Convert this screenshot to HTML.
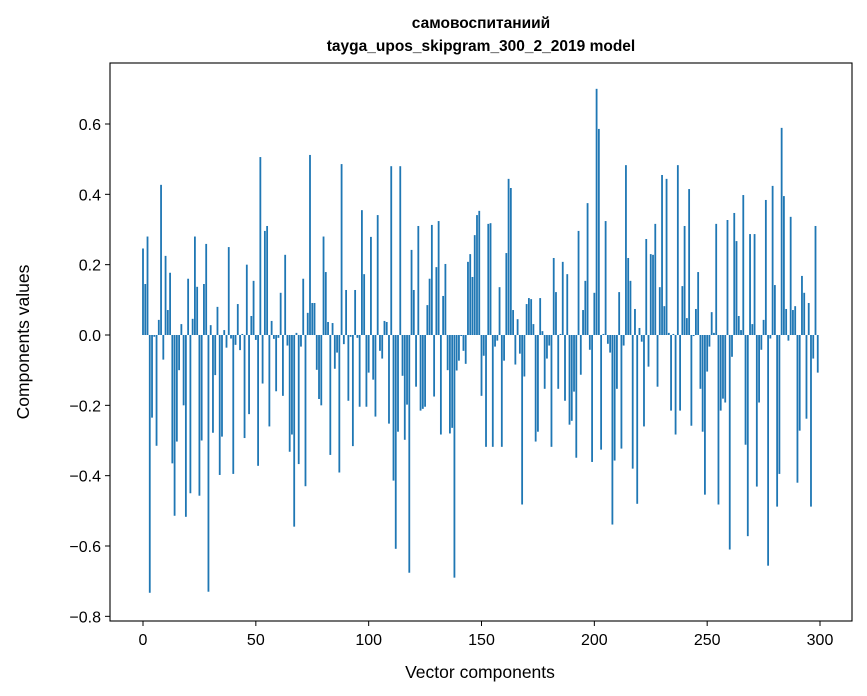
<!DOCTYPE html>
<html><head><meta charset="utf-8"><style>
body{margin:0;background:#fff;}
svg{display:block;font-family:"Liberation Sans","DejaVu Sans",sans-serif;}
</style></head><body>
<svg id="chart" width="867" height="696" viewBox="0 0 867 696">
<rect width="867" height="696" fill="#fff"/>
<text x="481" y="28" text-anchor="middle" font-size="15.5" font-weight="bold">самовоспитаниий</text>
<text x="481" y="51" text-anchor="middle" font-size="15.5" font-weight="bold">tayga_upos_skipgram_300_2_2019 model</text>
<g id="bars"></g>
<g id="xticks"></g>
<g id="yticks"></g>
<rect x="110" y="63" width="742" height="558" fill="none" stroke="#000" stroke-width="1.1"/>
<text x="480" y="678" text-anchor="middle" font-size="17.5">Vector components</text>
<text transform="translate(29,342) rotate(-90)" text-anchor="middle" font-size="17.5">Components values</text>
</svg>
<script>
const values = [
0.246,0.145,0.28,-0.733,-0.235,-0.005,-0.315,0.043,0.427,-0.07,
0.225,0.071,0.177,-0.365,-0.514,-0.303,-0.10,0.031,-0.2,-0.517,
0.16,-0.45,0.046,0.28,0.137,-0.457,-0.3,0.145,0.259,-0.73,
0.028,-0.278,-0.114,0.08,-0.398,-0.289,0.014,-0.036,0.25,-0.01,
-0.395,-0.028,0.088,-0.043,0.003,-0.293,0.2,-0.225,0.054,0.154,
-0.014,-0.372,0.506,-0.138,0.296,0.31,-0.26,0.04,-0.011,-0.16,
-0.008,0.12,-0.173,0.228,-0.03,-0.332,-0.283,-0.545,0.006,-0.367,
-0.033,0.16,-0.43,0.063,0.512,0.091,0.091,-0.099,-0.182,-0.2,
0.28,0.179,0.037,-0.341,0.034,-0.096,-0.05,-0.391,0.486,-0.026,
0.128,-0.187,-0.005,-0.316,0.128,-0.008,-0.204,0.355,0.173,-0.204,
-0.107,0.279,-0.127,-0.232,0.341,-0.045,-0.067,0.04,0.037,-0.252,
0.48,-0.414,-0.608,-0.275,0.48,-0.116,-0.298,-0.198,-0.676,0.242,
0.128,-0.147,0.31,-0.215,-0.21,-0.204,0.085,0.16,0.313,-0.175,
0.193,0.324,-0.283,0.111,0.202,-0.1,-0.28,-0.264,-0.69,-0.101,
-0.073,-0.003,-0.045,-0.082,0.208,0.23,0.165,0.284,0.341,0.353,
-0.173,-0.059,-0.318,0.316,0.318,-0.318,-0.033,-0.016,0.136,-0.318,
-0.073,0.233,0.444,0.418,0.071,-0.084,0.045,-0.053,-0.482,-0.118,
0.088,0.105,0.102,0.031,-0.303,-0.275,0.105,0.011,-0.153,-0.067,
-0.03,-0.318,0.219,0.122,-0.153,0.003,0.208,-0.187,0.173,-0.255,
-0.244,-0.161,-0.349,0.296,-0.113,0.071,0.154,0.375,-0.042,-0.361,
0.12,0.7,0.586,-0.326,0.003,0.324,-0.025,-0.05,-0.539,-0.357,
-0.153,0.122,-0.323,-0.03,0.483,0.219,0.154,-0.38,0.074,-0.48,
0.02,-0.019,-0.26,0.273,-0.09,0.23,0.228,0.316,-0.147,0.136,
0.455,0.082,0.444,0.006,-0.215,0.003,-0.283,0.483,-0.215,0.139,
0.31,0.048,0.415,-0.258,-0.003,0.074,0.179,-0.153,-0.275,-0.454,
-0.104,-0.033,0.065,0.006,0.316,-0.482,-0.215,-0.181,-0.192,0.327,
-0.61,-0.062,0.347,0.267,0.054,0.014,0.398,-0.312,-0.572,0.287,
0.031,0.287,-0.431,-0.192,-0.042,0.043,0.384,-0.656,-0.01,0.424,
0.142,-0.488,-0.395,0.589,0.395,0.074,-0.016,0.336,0.071,0.082,
-0.42,-0.272,0.168,0.12,-0.238,0.091,-0.488,-0.067,0.31,-0.107
];
const xTickValues = [0,50,100,150,200,250,300];
const yTickValues = [-0.8,-0.6,-0.4,-0.2,0.0,0.2,0.4,0.6];
const yTickLabels = ["\u22120.8","\u22120.6","\u22120.4","\u22120.2","0.0","0.2","0.4","0.6"];

const NS="http://www.w3.org/2000/svg";
const xs = v => 143 + v*2.2567;
const ys = v => 335 - v*351.67;
const barsG=document.getElementById('bars');
values.forEach((v,i)=>{
  const r=document.createElementNS(NS,'rect');
  const y0=ys(Math.max(v,0)), y1=ys(Math.min(v,0));
  r.setAttribute('x',xs(i-0.4));
  r.setAttribute('width',0.8*2.2567);
  r.setAttribute('y',y0);
  r.setAttribute('height',Math.max(y1-y0,0.3));
  r.setAttribute('fill','#1f77b4');
  
  
  barsG.appendChild(r);
});
const xg=document.getElementById('xticks');
xTickValues.forEach(t=>{
  const l=document.createElementNS(NS,'line');
  l.setAttribute('x1',xs(t));l.setAttribute('x2',xs(t));
  l.setAttribute('y1',621);l.setAttribute('y2',626);
  l.setAttribute('stroke','#000');
  
  
  xg.appendChild(l);
  const tx=document.createElementNS(NS,'text');
  tx.setAttribute('x',xs(t));tx.setAttribute('y',645);
  tx.setAttribute('text-anchor','middle');tx.setAttribute('font-size','16');
  tx.textContent=t;
  
  
  xg.appendChild(tx);
});
const yg=document.getElementById('yticks');
yTickValues.forEach((t,k)=>{
  const l=document.createElementNS(NS,'line');
  l.setAttribute('x1',105);l.setAttribute('x2',110);
  l.setAttribute('y1',ys(t));l.setAttribute('y2',ys(t));
  l.setAttribute('stroke','#000');
  
  
  yg.appendChild(l);
  const tx=document.createElementNS(NS,'text');
  tx.setAttribute('x',101);tx.setAttribute('y',ys(t)+6);
  tx.setAttribute('text-anchor','end');tx.setAttribute('font-size','16');
  tx.textContent=yTickLabels[k];
  
  
  yg.appendChild(tx);
});
</script>
</body></html>
